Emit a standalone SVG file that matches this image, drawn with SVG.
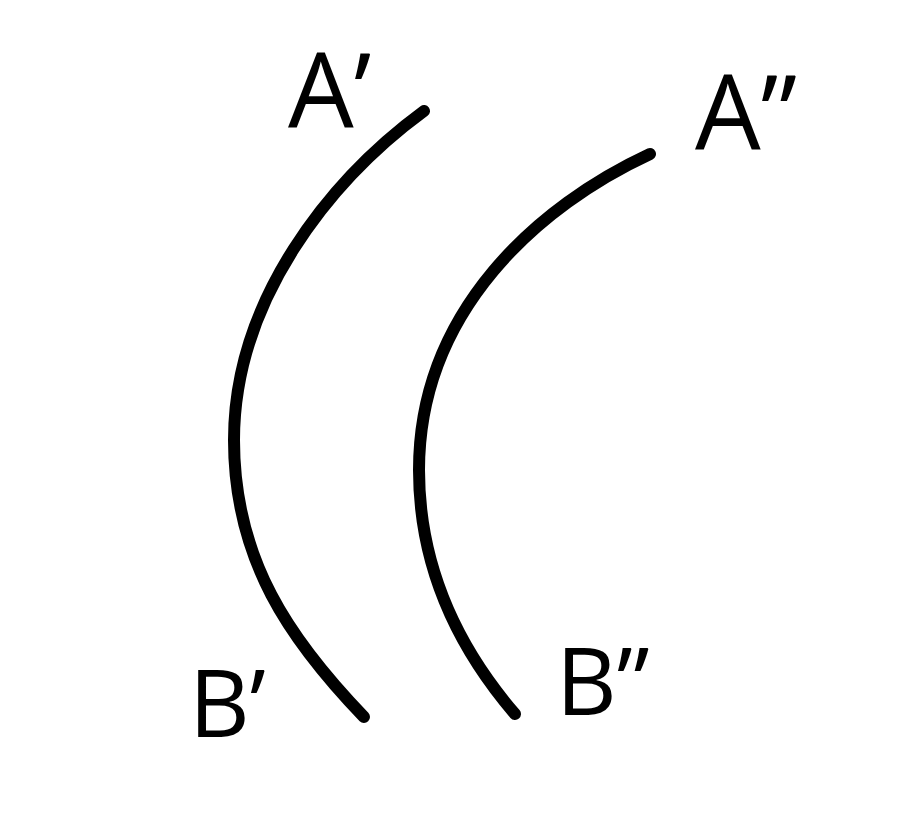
<svg xmlns="http://www.w3.org/2000/svg" width="900" height="837" viewBox="0 0 900 837">
<style>
.arc{fill:none;stroke:#000;stroke-width:12;stroke-linecap:round}
.lbl{font-family:"Open Sans","Liberation Sans",sans-serif;fill:#000}
</style>
<rect width="900" height="837" fill="#fff"/>
<g id="connectors">
<path id="arc1" class="arc" d="M424,111 C330,180 234,300 234,440 C234,560 290,640 364,717"/>
<path id="arc2" class="arc" d="M650,154 C540,205 419,310 419,470 C419,570 460,650 515,714"/>
</g>
<g id="labelA1"><text class="lbl" x="288" y="128" font-size="104">A’</text></g>
<g id="labelA2"><text class="lbl" x="695" y="150" font-size="104">A”</text></g>
<g id="labelB1"><text class="lbl" x="189" y="737" font-size="94">B’</text></g>
<g id="labelB2"><text class="lbl" x="556" y="715" font-size="94">B”</text></g>
</svg>
